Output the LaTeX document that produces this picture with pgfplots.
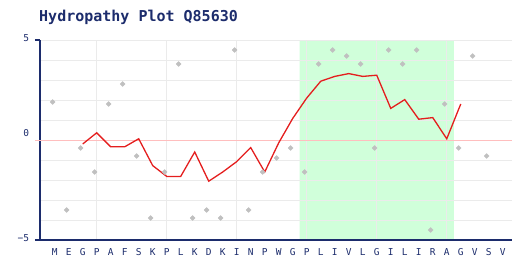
\documentclass[border=0pt]{standalone}
\usepackage{pgfplots}
\pgfplotsset{compat=1.18}
\usepackage{fontspec}
\setmainfont{DejaVu Sans Mono}
\definecolor{navy}{HTML}{1C2C6C}
\definecolor{gridc}{HTML}{EBEBEB}
\definecolor{band}{HTML}{D0FFDA}
\definecolor{zero}{HTML}{FFBEBE}
\definecolor{redl}{HTML}{E41E1E}
\definecolor{pts}{HTML}{C0C0C0}
\begin{document}
\begin{tikzpicture}
\begin{axis}[
 set layers,
 at={(40bp,20bp)}, anchor=south west,
 scale only axis, width=472bp, height=200bp,
 xmin=-0.05, xmax=33.66, ymin=-5, ymax=5,
 clip=false,
 axis x line*=bottom, axis y line*=left,
 axis line style={-, navy, line width=1.3bp},
 xtick={1,...,33},
 xticklabels={M,E,G,P,A,F,S,K,P,L,K,D,K,I,N,P,W,G,P,L,I,V,L,G,I,L,I,R,A,G,V,S,V},
 minor xtick={4,9,14,19,24,29},
 ytick={-5,5}, yticklabels={−5,5},
 minor ytick={-4,-3,-2,-1,1,2,3,4},
 extra y ticks={0}, extra y tick labels={0},
 extra y tick style={grid=none, yticklabel style={yshift=4.7bp}},
 xminorgrids, ymajorgrids, yminorgrids,
 grid style={gridc, line width=1bp},
 minor grid style={gridc, line width=1bp},
 major tick length=0pt, minor tick length=0pt,
 xticklabel style={font=\fontsize{9.5bp}{10bp}\selectfont, text=navy, anchor=north, inner sep=0pt, yshift=-8.3bp},
 yticklabel style={font=\fontsize{9.5bp}{10bp}\selectfont, text=navy, anchor=east, inner sep=0pt, xshift=-10.7bp, yshift=2bp},
]
\addplot[on layer=axis background, fill=band, draw=none] coordinates {(18.5,-5) (29.5,-5) (29.5,5) (18.5,5) (18.5,-5)};
\addplot[zero, line width=1bp] coordinates {(-0.41,0) (33.66,0)};
\addplot[navy, line width=1.3bp] coordinates {(-0.41,5) (-0.05,5)};
\addplot[navy, line width=1.3bp] coordinates {(-0.41,-5) (-0.05,-5)};
\addplot[only marks, mark=square*, mark size=1.7bp, pts, mark options={draw=pts, fill=pts, rotate=45, line width=0.4bp}] coordinates {
(0.85,1.9) (1.85,-3.5) (2.85,-0.4) (3.85,-1.6) (4.85,1.8) (5.85,2.8) (6.85,-0.8) (7.85,-3.9)
(8.85,-1.6) (9.85,3.8) (10.85,-3.9) (11.85,-3.5) (12.85,-3.9) (13.85,4.5) (14.85,-3.5) (15.85,-1.6)
(16.85,-0.9) (17.85,-0.4) (18.85,-1.6) (19.85,3.8) (20.85,4.5) (21.85,4.2) (22.85,3.8) (23.85,-0.4)
(24.85,4.5) (25.85,3.8) (26.85,4.5) (27.85,-4.5) (28.85,1.8) (29.85,-0.4) (30.85,4.2) (31.85,-0.8)
};
\addplot[redl, line width=1.3bp] coordinates {
(3,-0.2) (4,0.36) (5,-0.34) (6,-0.34) (7,0.06) (8,-1.28) (9,-1.82) (10,-1.82) (11,-0.60)
(12,-2.06) (13,-1.60) (14,-1.08) (15,-0.38) (16,-1.60) (17,-0.14) (18,1.08) (19,2.10) (20,2.94)
(21,3.18) (22,3.32) (23,3.18) (24,3.24) (25,1.58) (26,2.02) (27,1.04) (28,1.12) (29,0.06) (30,1.80)
};
\end{axis}
\node[anchor=base west, inner sep=0pt, font=\bfseries\fontsize{15bp}{18bp}\selectfont, text=navy] at (39bp,238bp) {Hydropathy Plot Q85630};
\pgfresetboundingbox
\useasboundingbox (0,0) rectangle (512bp,260bp);
\end{tikzpicture}
\end{document}
